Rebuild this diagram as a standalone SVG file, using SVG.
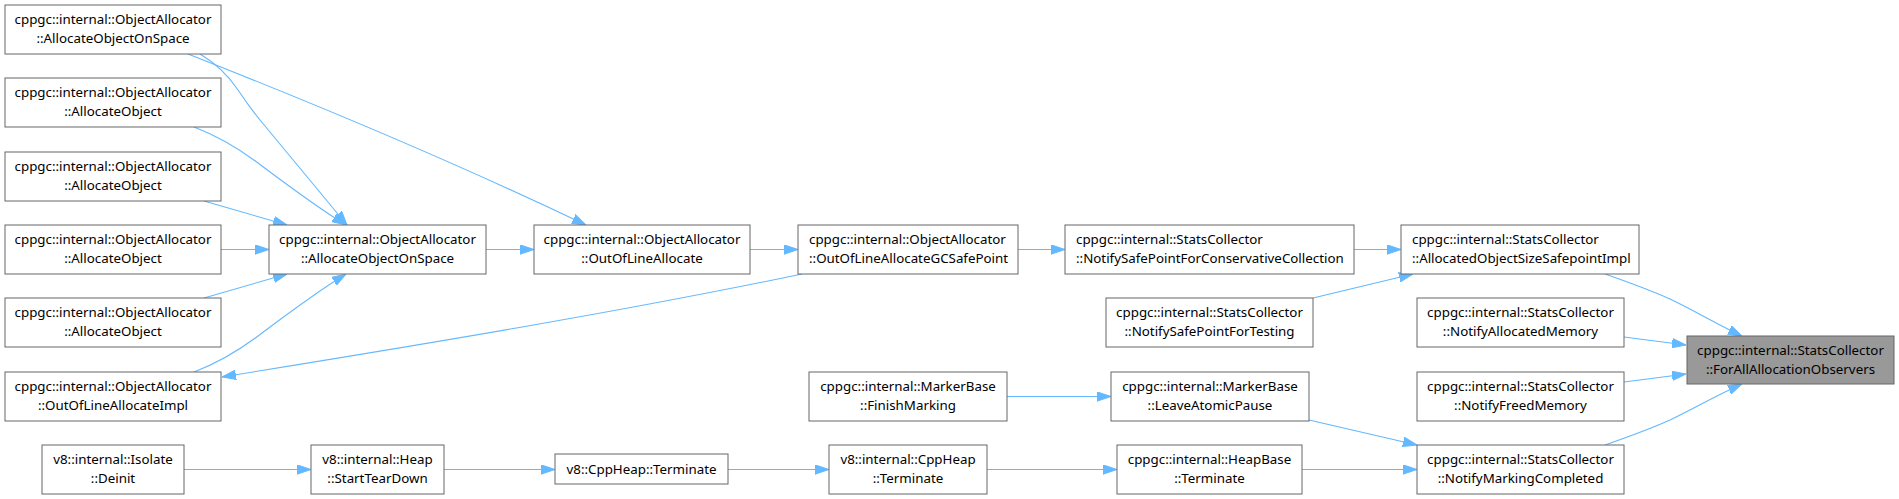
<svg xmlns="http://www.w3.org/2000/svg" width="1899" height="499" viewBox="0 0 1899 499">
<style>
.n rect{fill:#ffffff;stroke:#666666;stroke-width:1}
.n.hl rect{fill:#999999}
.n text{font-family:"Noto Sans","DejaVu Sans",sans-serif;font-size:13.33px;fill:#000000;text-anchor:middle}
.n text.l{text-anchor:start}
#edges path{fill:none;stroke:#63b8ff;stroke-width:1.1;marker-end:url(#ah)}
</style>
<defs>
<marker id="ah" markerUnits="userSpaceOnUse" markerWidth="14" markerHeight="10" viewBox="0 0 14 10" refX="14" refY="5" orient="auto">
<path d="M0,0.3 L14,5 L0,9.7 Z" fill="#63b8ff" stroke="#63b8ff" stroke-width="1"/>
</marker>
</defs>
<rect width="1899" height="499" fill="#ffffff"/>
<g id="edges">
<path d="M1605,274 C1625,281 1650,290 1670,299 C1695,311 1715,323 1742,336"/>
<path d="M1624,337 L1686,345"/>
<path d="M1624,382 L1686,374"/>
<path d="M1605,445 C1625,438 1650,429 1670,420 C1695,408 1715,396 1742,384"/>
<path d="M1354,249.5 L1401,249.5"/>
<path d="M1313,298 L1413,274"/>
<path d="M1018,249.5 L1065,249.5"/>
<path d="M750,249.5 L798,249.5"/>
<path d="M486,249.5 L534,249.5"/>
<path d="M188,54 C300,98 450,160 586,225"/>
<path d="M200,54 C217,64 228,75 238,90 C246,102 253,112 265,126 L347,225"/>
<path d="M194,127 C215,135 240,149 262,166 C290,187 318,208 346,225"/>
<path d="M204,201 L287,225"/>
<path d="M221,249.5 L269,249.5"/>
<path d="M204,298 L287,274"/>
<path d="M194,372 C215,364 240,350 262,333 C290,312 318,291 346,274"/>
<path d="M802,274 C620,312 420,345 222,377"/>
<path d="M1007,396.5 L1111,396.5"/>
<path d="M1309,420 L1417,445"/>
<path d="M1302,469.5 L1417,469.5"/>
<path d="M987,469.5 L1117,469.5"/>
<path d="M728,469.5 L829,469.5"/>
<path d="M444,469.5 L555,469.5"/>
<path d="M184,469.5 L311,469.5"/>
</g>
<g id="n1" class="n"><rect x="5" y="5" width="216" height="49"/><text x="113" y="24">cppgc::internal::ObjectAllocator</text><text x="113" y="43">::AllocateObjectOnSpace</text></g>
<g id="n2" class="n"><rect x="5" y="78" width="216" height="49"/><text x="113" y="97">cppgc::internal::ObjectAllocator</text><text x="113" y="116">::AllocateObject</text></g>
<g id="n3" class="n"><rect x="5" y="152" width="216" height="49"/><text x="113" y="171">cppgc::internal::ObjectAllocator</text><text x="113" y="190">::AllocateObject</text></g>
<g id="n4" class="n"><rect x="5" y="225" width="216" height="49"/><text x="113" y="244">cppgc::internal::ObjectAllocator</text><text x="113" y="263">::AllocateObject</text></g>
<g id="n5" class="n"><rect x="5" y="298" width="216" height="49"/><text x="113" y="317">cppgc::internal::ObjectAllocator</text><text x="113" y="336">::AllocateObject</text></g>
<g id="n6" class="n"><rect x="5" y="372" width="216" height="49"/><text x="113" y="391">cppgc::internal::ObjectAllocator</text><text x="113" y="410">::OutOfLineAllocateImpl</text></g>
<g id="n7" class="n"><rect x="42" y="445" width="142" height="49"/><text x="113" y="464">v8::internal::Isolate</text><text x="113" y="483">::Deinit</text></g>
<g id="n8" class="n"><rect x="269" y="225" width="217" height="49"/><text x="377.5" y="244">cppgc::internal::ObjectAllocator</text><text x="377.5" y="263">::AllocateObjectOnSpace</text></g>
<g id="n9" class="n"><rect x="311" y="445" width="133" height="49"/><text x="377.5" y="464">v8::internal::Heap</text><text x="377.5" y="483">::StartTearDown</text></g>
<g id="n10" class="n"><rect x="534" y="225" width="216" height="49"/><text x="642" y="244">cppgc::internal::ObjectAllocator</text><text x="642" y="263">::OutOfLineAllocate</text></g>
<g id="n11" class="n"><rect x="555" y="454" width="173" height="30"/><text x="641.5" y="474">v8::CppHeap::Terminate</text></g>
<g id="n12" class="n"><rect x="798" y="225" width="220" height="49"/><text class="l" x="809" y="244">cppgc::internal::ObjectAllocator</text><text class="l" x="809" y="263">::OutOfLineAllocateGCSafePoint</text></g>
<g id="n13" class="n"><rect x="809" y="372" width="198" height="49"/><text x="908" y="391">cppgc::internal::MarkerBase</text><text x="908" y="410">::FinishMarking</text></g>
<g id="n14" class="n"><rect x="829" y="445" width="158" height="49"/><text x="908" y="464">v8::internal::CppHeap</text><text x="908" y="483">::Terminate</text></g>
<g id="n15" class="n"><rect x="1065" y="225" width="289" height="49"/><text class="l" x="1076" y="244">cppgc::internal::StatsCollector</text><text class="l" x="1076" y="263">::NotifySafePointForConservativeCollection</text></g>
<g id="n16" class="n"><rect x="1106" y="298" width="207" height="49"/><text x="1209.5" y="317">cppgc::internal::StatsCollector</text><text x="1209.5" y="336">::NotifySafePointForTesting</text></g>
<g id="n17" class="n"><rect x="1111" y="372" width="198" height="49"/><text x="1210" y="391">cppgc::internal::MarkerBase</text><text x="1210" y="410">::LeaveAtomicPause</text></g>
<g id="n18" class="n"><rect x="1117" y="445" width="185" height="49"/><text x="1209.5" y="464">cppgc::internal::HeapBase</text><text x="1209.5" y="483">::Terminate</text></g>
<g id="n19" class="n"><rect x="1401" y="225" width="238" height="49"/><text class="l" x="1412" y="244">cppgc::internal::StatsCollector</text><text class="l" x="1412" y="263">::AllocatedObjectSizeSafepointImpl</text></g>
<g id="n20" class="n"><rect x="1417" y="298" width="207" height="49"/><text x="1520.5" y="317">cppgc::internal::StatsCollector</text><text x="1520.5" y="336">::NotifyAllocatedMemory</text></g>
<g id="n21" class="n"><rect x="1417" y="372" width="207" height="49"/><text x="1520.5" y="391">cppgc::internal::StatsCollector</text><text x="1520.5" y="410">::NotifyFreedMemory</text></g>
<g id="n22" class="n"><rect x="1417" y="445" width="207" height="49"/><text x="1520.5" y="464">cppgc::internal::StatsCollector</text><text x="1520.5" y="483">::NotifyMarkingCompleted</text></g>
<g id="n23" class="n hl"><rect x="1687" y="336" width="207" height="48"/><text x="1790.5" y="355">cppgc::internal::StatsCollector</text><text x="1790.5" y="374">::ForAllAllocationObservers</text></g>
</svg>
